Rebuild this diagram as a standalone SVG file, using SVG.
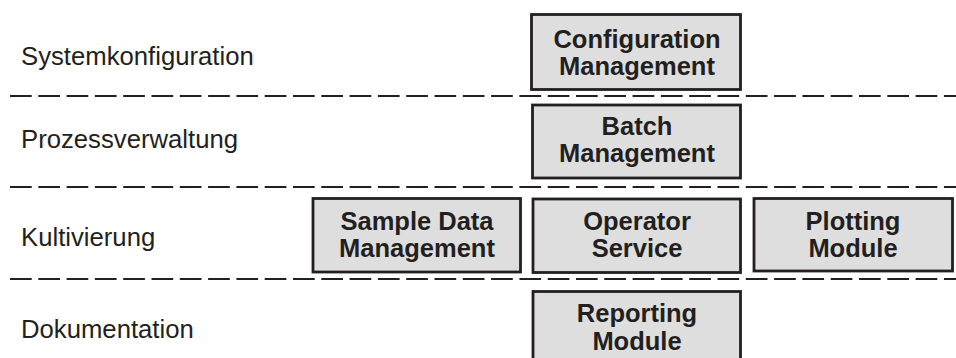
<svg xmlns="http://www.w3.org/2000/svg" width="956" height="358" viewBox="0 0 956 358">
  <style>
    .layer { font-family: "Liberation Sans", Arial, sans-serif; font-size: 25.7px; fill: #231f20; }
    .box rect { fill: #dedede; stroke: #231f20; stroke-width: 2.8; }
    .box text { font-family: "Liberation Sans", Arial, sans-serif; font-size: 25.5px; font-weight: bold; fill: #231f20; text-anchor: middle; }
    .sep { stroke: #231f20; stroke-width: 2.2; stroke-dasharray: 21.7 6.6; fill: none; }
  </style>

  <rect width="956" height="358" fill="#ffffff"/>

  <!-- layer separators -->
  <g id="separators">
    <line class="sep" x1="10" y1="96" x2="956" y2="96"/>
    <line class="sep" x1="10" y1="187" x2="956" y2="187"/>
    <line class="sep" x1="10" y1="279" x2="956" y2="279"/>
  </g>

  <!-- layer names -->
  <g id="layer-labels">
    <text class="layer" x="21" y="65">Systemkonfiguration</text>
    <text class="layer" x="21" y="148">Prozessverwaltung</text>
    <text class="layer" x="21" y="246">Kultivierung</text>
    <text class="layer" x="21" y="338">Dokumentation</text>
  </g>

  <g id="configuration-management" class="box">
    <rect x="531.5" y="14.5" width="209" height="75"/>
    <text x="637" y="47.5">Configuration</text>
    <text x="637" y="74.5">Management</text>
  </g>

  <g id="batch-management" class="box">
    <rect x="532.5" y="105" width="208" height="73"/>
    <text x="637" y="134.5">Batch</text>
    <text x="637" y="161.5">Management</text>
  </g>

  <g id="sample-data-management" class="box">
    <rect x="313" y="198.5" width="207.5" height="73.5"/>
    <text x="417" y="229.5">Sample Data</text>
    <text x="417" y="256.5">Management</text>
  </g>

  <g id="operator-service" class="box">
    <rect x="533" y="199" width="207.5" height="73.5"/>
    <text x="637" y="229.5">Operator</text>
    <text x="637" y="256.5">Service</text>
  </g>

  <g id="plotting-module" class="box">
    <rect x="754" y="198.5" width="198.5" height="72.5"/>
    <text x="853" y="230">Plotting</text>
    <text x="853" y="257">Module</text>
  </g>

  <g id="reporting-module" class="box">
    <rect x="533" y="291.5" width="207.5" height="80"/>
    <text x="637" y="321.5">Reporting</text>
    <text x="637" y="349.5">Module</text>
  </g>

  <g id="connectors"/>
</svg>
